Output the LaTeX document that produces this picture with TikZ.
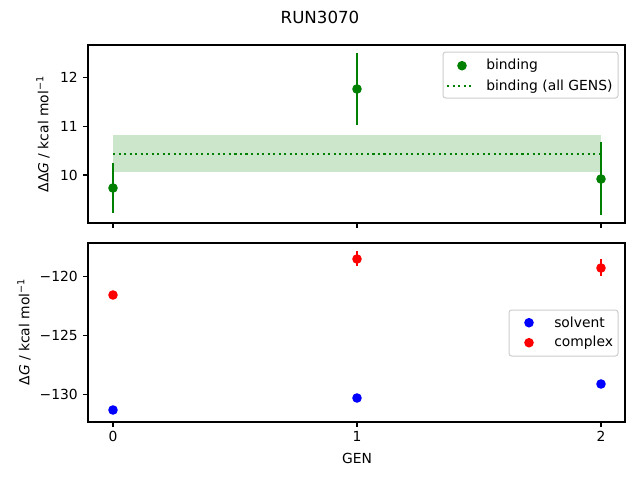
\documentclass[tikz,border=0pt]{standalone}
\usepackage{fontspec}
\setmainfont{DejaVu Sans}
\newfontfamily\obl{DejaVu Sans Oblique}
\definecolor{mgreen}{RGB}{0,128,0}
\definecolor{band}{RGB}{204,230,204}
\definecolor{legedge}{RGB}{204,204,204}
\begin{document}
\begin{tikzpicture}[x=0.75pt,y=-0.75pt,
  font=\fontsize{10.4}{12}\selectfont,
  axis/.style={draw=black,line width=0.83pt},
  tick/.style={line width=0.83pt},
  dot/.style={circle,inner sep=0pt,minimum size=7.2pt},
  gdot/.style={dot,fill=mgreen},
  bdot/.style={dot,fill=blue},
  rdot/.style={dot,fill=red},
  ebar/.style={line width=1.5pt},
  dotline/.style={mgreen,line width=1.56pt,dash pattern=on 1.56pt off 2.58pt},
  legbox/.style={draw=legedge,fill=white,fill opacity=0.8,rounded corners=2pt,line width=0.75pt},
  ylab/.style={anchor=east,inner sep=0pt},
  xlab/.style={anchor=north,inner sep=0pt},
  ltext/.style={anchor=west,inner sep=0pt}]
\useasboundingbox (0,0) rectangle (640,480);
% title
\node (title) at (320,17) {\fontsize{12.5}{14}\selectfont RUN3070};
% ---------------- top axes
\fill[band] (113,135) rectangle (601,172);
\draw[dotline] (113,154) -- (601,154);
\coordinate (e0a) at (113,163); \coordinate (e0b) at (113,213);
\coordinate (e1a) at (357,53); \coordinate (e1b) at (357,125);
\coordinate (e2a) at (601,142); \coordinate (e2b) at (601,215);
\draw[mgreen,ebar] (e0a) -- (e0b);
\draw[mgreen,ebar] (e1a) -- (e1b);
\draw[mgreen,ebar] (e2a) -- (e2b);
\node[gdot] (g0) at (113,188) {};
\node[gdot] (g1) at (357,89) {};
\node[gdot] (g2) at (601,179) {};
\draw[axis] (88,45) rectangle (625,223);
\foreach \y/\t in {77.3/12,126.3/11,175/10}{
  \draw[tick] (88,\y) -- (83.1,\y);
  \node[ylab] at (78,\y) {\t};
}
\foreach \x in {113,357,601}{ \draw[tick] (\x,223) -- (\x,227.9); }
\node[rotate=90] (yl1) at (43,134) {ΔΔ{\obl G} / kcal mol\textsuperscript{−1}};
% legend top
\draw[legbox] (443,52) rectangle (618,98);
\node[gdot] (lg1) at (462,65.7) {};
\node[ltext] (lt1) at (486,65.7) {binding};
\coordinate (ld1) at (447,86.3); \coordinate (ld2) at (473,86.3);
\draw[dotline] (ld1) -- (ld2);
\node[ltext] (lt2) at (486,86.3) {binding (all GENS)};
% ---------------- bottom axes
\coordinate (r0a) at (113,292); \coordinate (r0b) at (113,298);
\coordinate (r1a) at (357,251); \coordinate (r1b) at (357,266);
\coordinate (r2a) at (601,259); \coordinate (r2b) at (601,276);
\draw[red,ebar] (r0a) -- (r0b);
\draw[red,ebar] (r1a) -- (r1b);
\draw[red,ebar] (r2a) -- (r2b);
\coordinate (b1a) at (357,395); \coordinate (b1b) at (357,401);
\draw[blue,ebar] (b1a) -- (b1b);
\node[bdot] (s0) at (113,410) {};
\node[bdot] (s1) at (357,398) {};
\node[bdot] (s2) at (601,384) {};
\node[rdot] (c0) at (113,295) {};
\node[rdot] (c1) at (357,259) {};
\node[rdot] (c2) at (601,268) {};
\draw[axis] (88,243) rectangle (625,422);
\foreach \y/\t in {276.7/−120,335.7/−125,394.8/−130}{
  \draw[tick] (88,\y) -- (83.1,\y);
  \node[ylab] at (78,\y) {\t};
}
\foreach \x/\t in {113/0,357/1,601/2}{
  \draw[tick] (\x,422) -- (\x,426.9);
  \node[xlab] at (\x,431) {\t};
}
\node (xl) at (357,458) {GEN};
\node[rotate=90] (yl2) at (24,332) {Δ{\obl G} / kcal mol\textsuperscript{−1}};
% legend bottom
\draw[legbox] (509,310) rectangle (618,356);
\node[bdot] (lb) at (529,322.7) {};
\node[ltext] (lt3) at (554,322.7) {solvent};
\node[rdot] (lr) at (529,342.7) {};
\node[ltext] (lt4) at (554,342.7) {complex};
\end{tikzpicture}
\end{document}
